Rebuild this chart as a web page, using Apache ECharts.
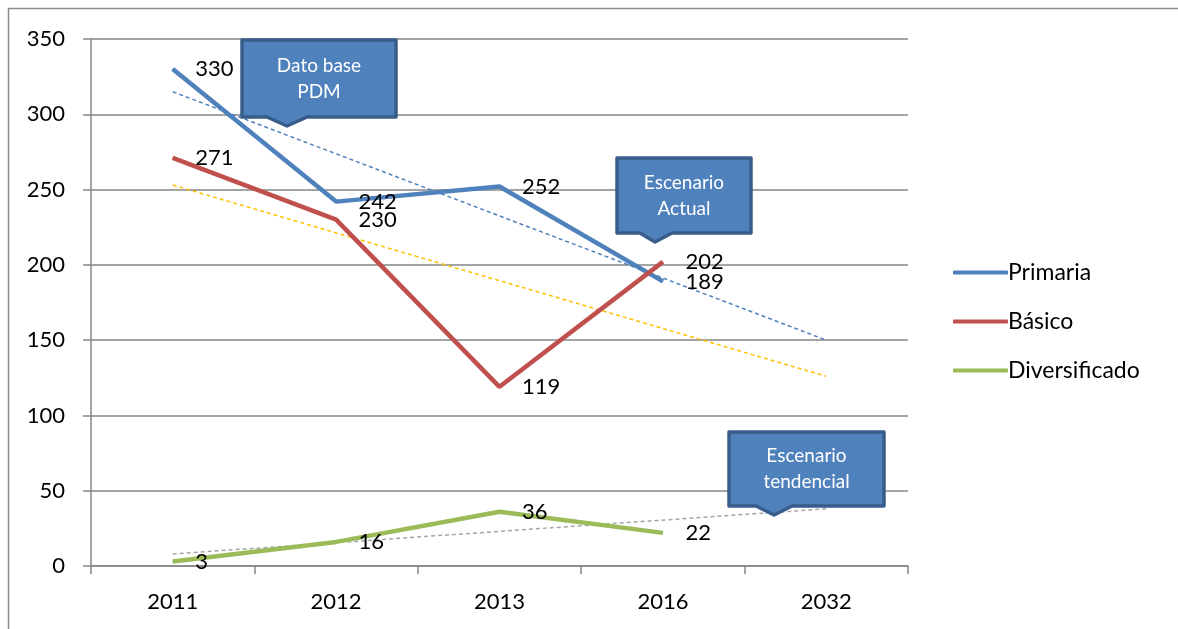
<!DOCTYPE html>
<html>
<head>
<meta charset="utf-8">
<script src="https://cdn.jsdelivr.net/npm/echarts@6/dist/echarts.min.js"></script>
<style>
  html, body { margin: 0; padding: 0; background: #fff; }
  #chart { width: 1178px; height: 629px; }
</style>
</head>
<body>
<div id="chart"></div>
<script>
// categorias y valores
const years = ['2011', '2012', '2013', '2016', '2032']
const primaria = [330, 242, 252, 189, null]
const basico = [271, 230, 119, 202, null]
const diversificado = [3, 16, 36, 22, null]
// lineas de tendencia (extremos)
const tendPrimaria = [315, null, null, null, 150]
const tendBasico = [253, null, null, null, 126]
const tendDiversificado = [8, null, null, null, 38]

const FONT = 'Lato'
const GRID = '#868686'

function mainSeries(name, data, color) {
  return {
    name: name,
    type: 'line',
    data: data,
    symbol: 'circle',
    symbolSize: 1,
    lineStyle: { color: color, width: 4.5 },
    itemStyle: { color: color },
    label: {
      show: true,
      position: 'right',
      distance: 22,
      color: '#000',
      fontFamily: FONT,
      fontSize: 22
    },
    z: 3
  }
}

function trendSeries(data, color) {
  return {
    name: 'tend',
    type: 'line',
    data: data,
    connectNulls: true,
    symbol: 'none',
    silent: true,
    lineStyle: { color: color, width: 1.5, type: [4, 3] },
    z: 2
  }
}

// cuadro tipo llamada con punta hacia abajo
function callout(x1, y1, x2, y2, px1, px2, tipX, tipY, lines) {
  return [{
    type: 'polygon',
    shape: {
      points: [[x1, y1], [x2, y1], [x2, y2], [px2, y2], [tipX, tipY], [px1, y2], [x1, y2]]
    },
    style: { fill: '#4F81BD', stroke: '#385D8A', lineWidth: 3.5, lineJoin: 'round' },
    z: 10
  }, {
    type: 'text',
    x: (x1 + x2) / 2,
    y: (y1 + y2) / 2,
    style: {
      text: lines,
      fill: '#fff',
      font: '19px ' + FONT,
      align: 'center',
      verticalAlign: 'middle',
      lineHeight: 26
    },
    z: 11
  }]
}

const chart = echarts.init(document.getElementById('chart'))
chart.setOption({
  animation: false,
  backgroundColor: '#fff',
  grid: { left: 91, right: 270, top: 39, bottom: 63 },
  legend: {
    orient: 'vertical',
    left: 948,
    top: 256,
    itemWidth: 55,
    itemHeight: 4,
    itemGap: 26,
    icon: 'roundRect',
    data: ['Primaria', 'Básico', 'Diversificado'],
    textStyle: { fontFamily: FONT, fontSize: 23, color: '#000', padding: [0, 0, 0, -5] }
  },
  xAxis: {
    type: 'category',
    data: years,
    boundaryGap: true,
    axisLine: { lineStyle: { color: GRID, width: 1.5 } },
    axisTick: { show: true, interval: 0, length: 8, lineStyle: { color: GRID, width: 1.5 } },
    axisLabel: { color: '#000', fontFamily: FONT, fontSize: 22, margin: 25 }
  },
  yAxis: {
    type: 'value',
    min: 0,
    max: 350,
    interval: 50,
    axisLine: { show: true, lineStyle: { color: GRID, width: 1.5 } },
    axisTick: { show: true, length: 8, lineStyle: { color: GRID, width: 1.5 } },
    axisLabel: { color: '#000', fontFamily: FONT, fontSize: 22, margin: 26 },
    splitLine: { lineStyle: { color: GRID, width: 1.5 } }
  },
  series: [
    trendSeries(tendPrimaria, '#4F81BD'),
    trendSeries(tendBasico, '#FFC000'),
    trendSeries(tendDiversificado, '#A5A5A5'),
    mainSeries('Primaria', primaria, '#4F81BD'),
    mainSeries('Básico', basico, '#C0504D'),
    mainSeries('Diversificado', diversificado, '#9BBB59')
  ],
  graphic: [
    {
      type: 'rect',
      shape: { x: 8.5, y: 8.5, width: 1200, height: 700 },
      style: { fill: 'none', stroke: '#8c8c8c', lineWidth: 1.5 },
      silent: true
    },
    ...callout(242, 40, 396, 117, 267, 307, 287, 126, 'Dato base\nPDM'),
    ...callout(617, 158, 751, 233, 640, 672, 655, 242, 'Escenario\nActual'),
    ...callout(729, 432, 884, 506, 756, 792, 774, 515, 'Escenario\ntendencial')
  ]
})
</script>
</body>
</html>
